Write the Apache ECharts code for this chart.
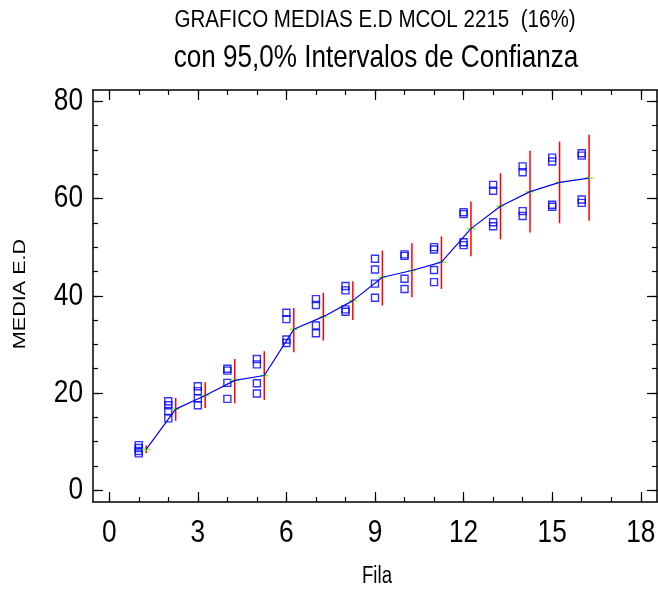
<!DOCTYPE html>
<html>
<head>
<meta charset="utf-8">
<script src="https://cdn.jsdelivr.net/npm/echarts@6/dist/echarts.min.js"></script>
<style>html,body{margin:0;padding:0;background:#fff;}#c{width:658px;height:592px;}</style>
</head>
<body>
<div id="c"></div>
<script>
// ---- data ----
const groups = [1,2,3,4,5,6,7,8,9,10,11,12,13,14,15,16];
// four observations per group (sorted high to low)
const obsA = [9.3, 18.3, 21.4, 25.0, 27.0, 36.5, 39.3, 42.0, 47.6, 48.5, 50.0, 57.2, 62.8, 66.6, 68.4, 69.3];
const obsB = [8.7, 17.5, 20.4, 24.6, 25.9, 35.2, 38.1, 41.1, 45.4, 48.2, 49.5, 56.8, 61.6, 65.4, 67.6, 68.8];
const obsC = [8.1, 16.3, 18.9, 22.1, 22.0, 31.0, 33.9, 37.2, 42.5, 43.5, 45.3, 51.0, 55.1, 57.4, 58.7, 59.8];
const obsD = [7.6, 14.8, 17.5, 18.8, 19.9, 30.3, 32.3, 36.7, 39.6, 41.4, 42.8, 50.4, 54.3, 56.4, 58.3, 59.1];
// group means and 95% confidence limits
const means = [8.4, 16.7, 19.5, 22.6, 23.6, 33.1, 35.7, 39.0, 43.8, 45.2, 46.9, 53.8, 58.4, 61.4, 63.3, 64.2];
const lower = [7.6, 14.3, 16.9, 17.9, 18.6, 28.4, 30.8, 35.0, 38.0, 39.7, 41.4, 48.1, 51.6, 53.0, 54.9, 55.4];
const upper = [9.2, 19.0, 22.2, 27.0, 28.6, 37.5, 40.6, 43.0, 49.3, 50.8, 52.2, 59.4, 65.2, 69.8, 71.7, 73.1];
const xMajor = [0, 3, 6, 9, 12, 15, 18];
const xMinor = [0,1,2,3,4,5,6,7,8,9,10,11,12,13,14,15,16,17,18];
const yMajor = [0, 20, 40, 60, 80];
const yMinor = [0,5,10,15,20,25,30,35,40,45,50,55,60,65,70,75,80];
const titleText = 'GRAFICO MEDIAS E.D MCOL 2215  (16%)';
const subtitleText = 'con 95,0% Intervalos de Confianza';
const xName = 'Fila';
const yName = 'MEDIA E.D';

// ---- chart ----
const MEAN_OFFSET = 0.25;
const SANS = "'Liberation Sans', Arial, sans-serif";
const X_MIN = -0.55, X_MAX = 18.55, Y_MIN = -2.4, Y_MAX = 82.3;

const chart = echarts.init(document.getElementById('c'), null, {renderer: 'canvas'});

function xAx(pos, vals, len, showLine) {
  return {
    type: 'value', position: pos, min: X_MIN, max: X_MAX, gridIndex: 0,
    axisLine: {show: showLine, onZero: false, lineStyle: {color: '#000', width: 1.5}},
    axisTick: {show: true, inside: true, length: len, customValues: vals, lineStyle: {color: '#000', width: 1.2}},
    axisLabel: {show: false},
    splitLine: {show: false}
  };
}
function yAx(pos, vals, len, showLine) {
  return {
    type: 'value', position: pos, min: Y_MIN, max: Y_MAX, gridIndex: 0,
    axisLine: {show: showLine, onZero: false, lineStyle: {color: '#000', width: 1.5}},
    axisTick: {show: true, inside: true, length: len, customValues: vals, lineStyle: {color: '#000', width: 1.2}},
    axisLabel: {show: false},
    splitLine: {show: false}
  };
}

function obsData(arr) { return groups.map((g, i) => [g, arr[i]]); }
const scatterStyle = {color: 'rgba(0,0,0,0)', borderColor: '#0000ff', borderWidth: 1.4};

function narrowText(text, x, y, size, align, sx) {
  return {
    type: 'text', x: x, y: y, scaleX: sx, scaleY: 1,
    style: {text: text, x: 0, y: 0, font: size + 'px ' + SANS, fill: '#000', align: align, verticalAlign: 'middle'}
  };
}

const option = {
  animation: false,
  grid: {left: 93, right: 1, top: 90, bottom: 90, containLabel: false},
  xAxis: [
    xAx('bottom', xMajor, 10, true),
    xAx('bottom', xMinor, 5, false),
    xAx('top', xMajor, 10, true),
    xAx('top', xMinor, 5, false)
  ],
  yAxis: [
    yAx('left', yMajor, 10, true),
    yAx('left', yMinor, 5, false),
    yAx('right', yMajor, 10, true),
    yAx('right', yMinor, 5, false)
  ],
  graphic: [
    narrowText(titleText, 375, 21, 23.5, 'center', 0.875),
    narrowText(subtitleText, 376, 58, 32, 'center', 0.815),
    narrowText(xName, 377, 577, 23, 'center', 0.81),
    {type: 'text', x: 21, y: 294, rotation: Math.PI / 2, scaleX: 1.35, scaleY: 1,
     style: {text: yName, x: 0, y: 0, font: '16px ' + SANS, fill: '#000', align: 'center', verticalAlign: 'middle'}}
  ],
  series: [
    {type: 'scatter', data: obsData(obsA), symbol: 'rect', symbolSize: 7, itemStyle: scatterStyle, z: 2},
    {type: 'scatter', data: obsData(obsB), symbol: 'rect', symbolSize: 7, itemStyle: scatterStyle, z: 2},
    {type: 'scatter', data: obsData(obsC), symbol: 'rect', symbolSize: 7, itemStyle: scatterStyle, z: 2},
    {type: 'scatter', data: obsData(obsD), symbol: 'rect', symbolSize: 7, itemStyle: scatterStyle, z: 2},
    {
      type: 'custom', z: 3,
      data: groups.map((g, i) => [g + MEAN_OFFSET, lower[i], upper[i], means[i]]),
      renderItem: function (params, api) {
        const lo = api.coord([api.value(0), api.value(1)]);
        const hi = api.coord([api.value(0), api.value(2)]);
        const m = api.coord([api.value(0), api.value(3)]);
        return {type: 'group', children: [
          {type: 'line', shape: {x1: lo[0], y1: lo[1], x2: hi[0], y2: hi[1]}, style: {stroke: '#ff0000', lineWidth: 1.5}},
          {type: 'line', shape: {x1: m[0] - 4, y1: m[1], x2: m[0] + 4, y2: m[1]}, style: {stroke: '#77ff00', lineWidth: 1.5}}
        ]};
      }
    },
    {
      type: 'line', z: 4,
      data: groups.map((g, i) => [g + MEAN_OFFSET, means[i]]),
      showSymbol: false, symbol: 'none',
      lineStyle: {color: '#0000ff', width: 1.2}
    },
    {
      // x tick labels, placed through the x scale
      type: 'custom', z: 5, clip: false,
      data: xMajor.map(v => [v, Y_MIN]),
      renderItem: function (params, api) {
        const p = api.coord([api.value(0), api.value(1)]);
        return narrowText(String(api.value(0)), p[0], p[1] + 31.5, 32, 'center', 0.82);
      }
    },
    {
      // y tick labels, placed through the y scale
      type: 'custom', z: 5, clip: false,
      data: yMajor.map(v => [X_MIN, v]),
      renderItem: function (params, api) {
        const p = api.coord([api.value(0), api.value(1)]);
        return narrowText(String(api.value(1)), p[0] - 10, p[1], 32, 'right', 0.82);
      }
    }
  ]
};
chart.setOption(option);
</script>
</body>
</html>
